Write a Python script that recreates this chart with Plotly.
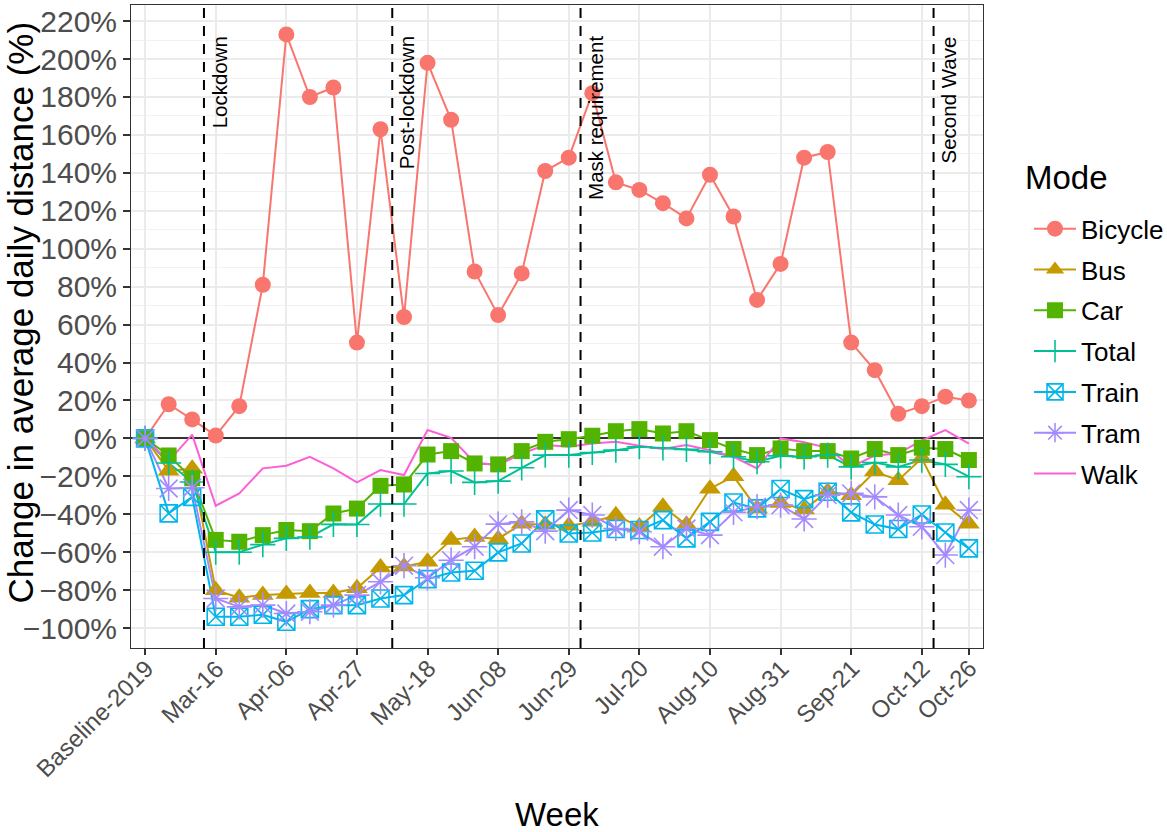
import plotly.graph_objects as go

weeks = ["Baseline-2019", "Mar-02", "Mar-09", "Mar-16", "Mar-23", "Mar-30", "Apr-06", "Apr-13", "Apr-20",
         "Apr-27", "May-04", "May-11", "May-18", "May-25", "Jun-01", "Jun-08", "Jun-15", "Jun-22",
         "Jun-29", "Jul-06", "Jul-13", "Jul-20", "Jul-27", "Aug-03", "Aug-10", "Aug-17", "Aug-24",
         "Aug-31", "Sep-07", "Sep-14", "Sep-21", "Sep-28", "Oct-05", "Oct-12", "Oct-19", "Oct-26"]
tick_labels = ["Baseline-2019", "Mar-16", "Apr-06", "Apr-27", "May-18", "Jun-08", "Jun-29",
               "Jul-20", "Aug-10", "Aug-31", "Sep-21", "Oct-12", "Oct-26"]
y_ticks = [-100, -80, -60, -40, -20, 0, 20, 40, 60, 80, 100, 120, 140, 160, 180, 200, 220]
y_tick_labels = ["\u2212100%", "\u221280%", "\u221260%", "\u221240%", "\u221220%", "0%", "20%", "40%",
                 "60%", "80%", "100%", "120%", "140%", "160%", "180%", "200%", "220%"]

bicycle = [0, 18, 10, 1.5, 17, 81, 213, 180, 185, 50.5, 163, 64, 198, 168, 88, 65, 87, 141,
           148, 182, 135, 131, 124, 116, 139, 117, 73, 92, 148, 151, 50.5, 36, 13, 17, 22, 20]
bus = [0, -17, -16, -80, -84, -82.5, -82, -81.5, -81.5, -79, -68, -67.5, -65, -53.5, -52, -53,
       -45, -45.5, -46, -44, -40.5, -46.5, -36, -45.5, -26.5, -20, -37, -34, -37.5, -28, -30,
       -17.5, -22, -10.5, -35, -45]
car = [0, -9, -21, -53.5, -54.5, -51, -48.3, -48.9, -39.6, -37, -25, -24.3, -8.5, -6.7, -13.2,
       -13.7, -6.7, -1.8, -0.4, 1.4, 3.8, 4.9, 2.6, 3.8, -0.9, -5.6, -8.8, -5.3, -6.7, -6.7,
       -10.6, -5.6, -8.8, -4.9, -5.6, -11.4]
total = [0, -13, -23, -60, -60, -56, -52.7, -52, -45.3, -45.4, -34.6, -34.6, -18.5, -17.2,
         -23.2, -22.5, -15.5, -8.8, -8.8, -7.4, -6.2, -4.4, -5, -5.8, -7, -9.7, -12.3, -9.2,
         -9.7, -8.8, -15, -12.7, -15, -11.4, -13.7, -20.2]
train = [0, -39.5, -30.8, -94, -94, -93, -96.7, -90, -87.9, -87.9, -84.4, -82.6, -74.2, -70.7,
         -69.8, -60.1, -55.4, -42.7, -50.1, -49.6, -47.8, -48.3, -43.1, -52.7, -44, -33.8,
         -36.9, -26.7, -32, -28.1, -39, -45.4, -47.8, -40.1, -49.6, -58]
tram = [0, -26.4, -26, -84.4, -88.8, -87.9, -92.3, -91.4, -87.9, -82.6, -75.6, -67.1, -73.5,
        -64.2, -57.1, -45.2, -44, -48.9, -37.8, -40.4, -47.5, -49.2, -57.1, -47.5, -51, -39,
        -36, -35.2, -42.5, -29.9, -29, -30.8, -40.4, -46.6, -61.5, -37.8]
walk = [0, -12, 2, -35.5, -29, -15.8, -14.4, -9.7, -15.8, -23.2, -16.7, -19.3, 4.4, 0.3,
        -12.7, -14.1, -8, -3.5, -4.4, -2.7, -1.8, -3.9, -5.6, -3.5, -6.2, -9.7, -15.8, 0,
        -2, -5, -15, -9, -8, -1, 4.4, -2.7]

events = ["Lockdown", "Post-lockdown", "Mask requirement", "Second Wave"]
event_after = ["Mar-09", "May-04", "Jun-29", "Oct-12"]

modes = ["Bicycle", "Bus", "Car", "Total", "Train", "Tram", "Walk"]
values = [bicycle, bus, car, total, train, tram, walk]
colors = ["#F8766D", "#C49A00", "#53B400", "#00C094", "#00B6EB", "#A58AFF", "#FB61D7"]
symbols = ["circle", "triangle-up", "square", "cross-thin", "square-x-open", "asterisk-open", None]
sizes = [16, 19, 16, 18, 17, 21, None]

xi = list(range(len(weeks)))
tick_idx = [weeks.index(t) for t in tick_labels]

FONT = "Liberation Sans, Arial, sans-serif"
fig = go.Figure()


def mline(s, c):
    return dict(color=c, width=1.6 if ("open" in s or "thin" in s) else 0)


# lines first (under all points)
for m, v, c in zip(modes, values, colors):
    fig.add_trace(go.Scatter(x=xi, y=v, mode="lines", line=dict(color=c, width=2),
                             showlegend=False, hoverinfo="skip"))
# points
for m, v, c, s, sz in zip(modes, values, colors, symbols, sizes):
    if s is None:
        continue
    fig.add_trace(go.Scatter(x=xi, y=v, mode="markers", showlegend=False, name=m,
                             marker=dict(symbol=s, size=sz, color=c, line=mline(s, c))))
# legend entries
for m, c, s, sz in zip(modes, colors, symbols, sizes):
    if s is None:
        fig.add_trace(go.Scatter(x=[None], y=[None], mode="lines", name=m, legendgroup=m,
                                 line=dict(color=c, width=2)))
    else:
        fig.add_trace(go.Scatter(x=[None], y=[None], mode="lines+markers", name=m, legendgroup=m,
                                 line=dict(color=c, width=2),
                                 marker=dict(symbol=s, size=sz, color=c, line=mline(s, c))))

shapes = []
annotations = []
for ev, after in zip(events, event_after):
    xv = weeks.index(after) + 0.5
    shapes.append(dict(type="line", xref="x", yref="paper", x0=xv, x1=xv, y0=0, y1=1,
                       line=dict(color="black", width=2, dash="10px,8px"), layer="above"))
    annotations.append(dict(x=xv, y=213, xref="x", yref="y", text=ev, showarrow=False,
                            textangle=-90, xanchor="center", yanchor="top", xshift=15,
                            font=dict(family=FONT, size=20.5, color="black")))

# rotated x tick labels
for t in tick_labels:
    annotations.append(dict(x=weeks.index(t), y=0, xref="x", yref="paper", text=t,
                            showarrow=False, textangle=-45, xanchor="right", yanchor="top",
                            xshift=16, yshift=-4,
                            font=dict(family=FONT, size=24, color="#4D4D4D")))

annotations.append(dict(x=-0.13, y=0.522, xref="paper", yref="paper",
                        text="Change in average daily distance (%)", showarrow=False,
                        textangle=-90, xanchor="center", yanchor="middle",
                        font=dict(family=FONT, size=35, color="black")))
annotations.append(dict(x=0.5, y=-0.259, xref="paper", yref="paper", text="Week",
                        showarrow=False, xanchor="center", yanchor="middle",
                        font=dict(family=FONT, size=33, color="black")))
annotations.append(dict(x=1.047, y=0.731, xref="paper", yref="paper", text="Mode",
                        showarrow=False, xanchor="left", yanchor="middle",
                        font=dict(family=FONT, size=33, color="black")))

fig.update_layout(
    width=1167, height=832,
    margin=dict(l=131, r=184, t=5, b=184, autoexpand=False),
    paper_bgcolor="white", plot_bgcolor="white",
    font=dict(family=FONT),
    shapes=shapes, annotations=annotations,
    legend=dict(x=1.054, y=0.6885, xanchor="left", yanchor="top",
                font=dict(family=FONT, size=26, color="black"),
                tracegroupgap=4, itemwidth=42, bgcolor="rgba(0,0,0,0)"),
    xaxis=dict(range=[-0.6, 35.6], tickmode="array", tickvals=tick_idx, ticktext=tick_labels,
               showticklabels=False,
               showgrid=True, gridcolor="#EBEBEB", gridwidth=1.5, zeroline=False,
               showline=True, mirror=True, linecolor="#333333", linewidth=1,
               ticks="outside", ticklen=6, tickcolor="#333333", tickwidth=1.5),
    yaxis=dict(range=[-110.5, 228.5], tickmode="array", tickvals=y_ticks, ticktext=y_tick_labels,
               tickfont=dict(family=FONT, size=30, color="#4D4D4D"),
               showgrid=True, gridcolor="#EBEBEB", gridwidth=1.5,
               minor=dict(tickmode="linear", tick0=10, dtick=20, showgrid=True,
                          gridcolor="#F2F2F2", gridwidth=1),
               zeroline=True, zerolinecolor="#333333", zerolinewidth=2,
               showline=True, mirror=True, linecolor="#333333", linewidth=1,
               ticks="outside", ticklen=7, tickcolor="#333333", tickwidth=1.5),
)

fig.write_html("out.html", config={"displayModeBar": False},
               post_script="document.body.style.margin='0px';")
